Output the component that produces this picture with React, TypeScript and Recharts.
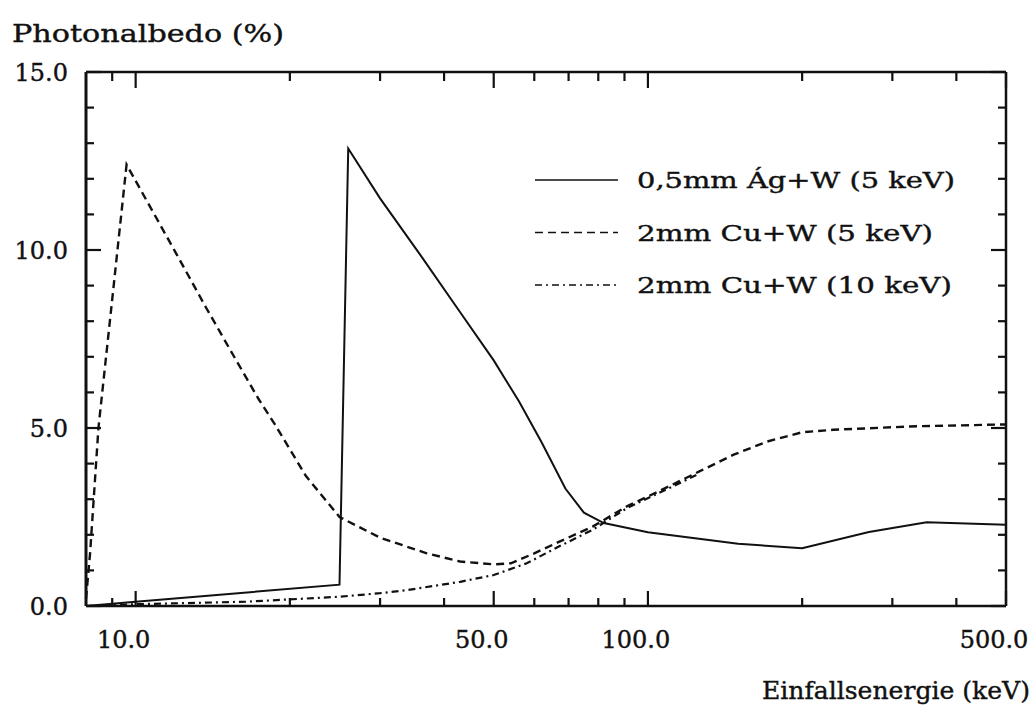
import React from 'react';
import { LineChart, Line, XAxis, YAxis, Legend } from 'recharts';

// energy axis (keV, log) ticks
const X_MAJOR = [10, 50, 100, 500];
const X_MINOR = [9, 20, 30, 40, 60, 70, 80, 90, 200, 300, 400];
const X_TICKS = [...X_MAJOR, ...X_MINOR].sort((a, b) => a - b);

// albedo axis (%) ticks
const Y_MAJOR = [0, 5, 10, 15];
const Y_MINOR = [1, 2, 3, 4, 6, 7, 8, 9, 11, 12, 13, 14];
const Y_TICKS = [...Y_MAJOR, ...Y_MINOR].sort((a, b) => a - b);

const SERIES_NAMES = ['0,5mm Ág+W (5 keV)', '2mm Cu+W (5 keV)', '2mm Cu+W (10 keV)'];

// 0,5mm Ag+W, 5 keV
const agEnergy = [8, 10, 25, 26, 30, 36, 43, 50, 56, 62, 69, 75, 82, 100, 150, 200, 270, 350, 500];
const agAlbedo = [0, 0.12, 0.6, 12.85, 11.45, 9.85, 8.25, 6.9, 5.75, 4.6, 3.3, 2.62, 2.33, 2.07, 1.75, 1.62, 2.08, 2.35, 2.28];

// 2mm Cu+W, 5 keV
const cu5Energy = [8, 8.15, 8.46, 9.06, 9.6, 12, 13.7, 15.5, 17.4, 18.7, 21.5, 25, 30, 37, 43, 50, 54, 60, 67, 78, 91, 106, 126, 147, 171, 200, 230, 335, 500];
const cu5Albedo = [0.2, 1.5, 5.0, 9.0, 12.4, 9.9, 8.4, 7.05, 5.8, 5.1, 3.65, 2.5, 1.92, 1.48, 1.25, 1.17, 1.2, 1.48, 1.8, 2.23, 2.8, 3.25, 3.78, 4.25, 4.62, 4.88, 4.95, 5.05, 5.1];

// 2mm Cu+W, 10 keV
const cu10Energy = [8, 10, 16.4, 25, 30, 34, 43, 50, 58, 67, 78, 91, 106, 126];
const cu10Albedo = [0, 0.05, 0.12, 0.26, 0.36, 0.45, 0.68, 0.87, 1.2, 1.67, 2.14, 2.75, 3.2, 3.72];

const toPoints = (e: number[], v: number[]) => e.map((x, i) => ({ e: x, v: v[i] }));

const FONT = 'DejaVu Serif';
const INK = '#111';

const CHART_W = 1034;
const CHART_H = 709;
const MARGIN_TOP = 72;
const X_AXIS_H = 103;
const PLOT_H = CHART_H - MARGIN_TOP - X_AXIS_H;

// bottom tick: inward mark + label, plus the matching mark hanging from the top frame
const XTick = (props: any) => {
  const { x, y, payload } = props;
  const major = X_MAJOR.includes(payload.value);
  const len = major ? 15 : 8;
  const top = y - PLOT_H;
  return (
    <g>
      <path d={`M${x},${y}L${x},${y - len}`} stroke={INK} strokeWidth={2.2} fill="none" />
      <path d={`M${x},${top}L${x},${top + (major ? 16 : 9)}`} stroke={INK} strokeWidth={2.2} fill="none" />
      {major && (
        <text x={x - 12} y={y + 42} textAnchor="middle" fontFamily={FONT} fontSize={24}
          fill={INK} stroke={INK} strokeWidth={0.4}>
          {payload.value.toFixed(1)}
        </text>
      )}
    </g>
  );
};

const YTick = (props: any) => {
  const { x, y, payload, side } = props;
  const major = Y_MAJOR.includes(payload.value);
  const len = major ? 15 : 8;
  const dir = side === 'right' ? -1 : 1;
  return (
    <g>
      <path d={`M${x},${y}L${x + dir * len},${y}`} stroke={INK} strokeWidth={2.2} fill="none" />
      {side !== 'right' && major && (
        <text x={x - 18} y={y + 9} textAnchor="end" fontFamily={FONT} fontSize={24}
          fill={INK} stroke={INK} strokeWidth={0.4}>
          {payload.value.toFixed(1)}
        </text>
      )}
    </g>
  );
};

const LEGEND_WIDTHS = [318, 296, 315];

const LegendBox = (props: any) => {
  const items = (props.payload || [])
    .filter((it: any) => SERIES_NAMES.includes(it.value))
    .sort((a: any, b: any) => SERIES_NAMES.indexOf(a.value) - SERIES_NAMES.indexOf(b.value));
  return (
    <svg width={440} height={160}>
      {items.map((it: any, i: number) => {
        const cy = 20 + i * 52.5;
        return (
          <g key={it.value}>
            <line x1={5} x2={88} y1={cy} y2={cy} stroke={INK} strokeWidth={1.6}
              strokeDasharray={it.payload.strokeDasharray} />
            <text x={107} y={cy + 8} fontFamily={FONT} fontSize={23} fill={INK} stroke={INK}
              strokeWidth={0.4} textLength={LEGEND_WIDTHS[i]} lengthAdjust="spacingAndGlyphs">
              {it.value}
            </text>
          </g>
        );
      })}
    </svg>
  );
};

export default function App() {
  return (
    <div style={{ position: 'absolute', left: 0, top: 0, background: '#fff' }}>
      <LineChart width={CHART_W} height={CHART_H} margin={{ top: MARGIN_TOP - 1, right: 0, bottom: 0, left: 0 }}>
        <XAxis
          dataKey="e"
          type="number"
          scale="log"
          domain={[8, 500]}
          ticks={X_TICKS}
          interval={0}
          height={X_AXIS_H}
          tickSize={0}
          tickMargin={0}
          tickLine={false}
          axisLine={{ stroke: INK, strokeWidth: 2.5 }}
          tick={<XTick />}
          label={({ viewBox }: any) => (
            <text x={viewBox.x + viewBox.width + 24} y={viewBox.y + 93} textAnchor="end"
              fontFamily={FONT} fontSize={25} fill={INK} stroke={INK} strokeWidth={0.4}
              textLength={268} lengthAdjust="spacingAndGlyphs">
              Einfallsenergie (keV)
            </text>
          )}
        />
        {/* top frame line */}
        <XAxis
          xAxisId="top"
          orientation="top"
          dataKey="e"
          type="number"
          scale="log"
          domain={[8, 500]}
          height={1}
          tick={false}
          tickLine={false}
          axisLine={{ stroke: INK, strokeWidth: 2.5 }}
        />
        <YAxis
          type="number"
          domain={[0, 15]}
          ticks={Y_TICKS}
          interval={0}
          width={86}
          tickSize={0}
          tickMargin={0}
          tickLine={false}
          axisLine={{ stroke: INK, strokeWidth: 3 }}
          tick={<YTick side="left" />}
          label={({ viewBox }: any) => (
            <text x={12} y={viewBox.y - 30} fontFamily={FONT} fontSize={25} fill={INK}
              stroke={INK} strokeWidth={0.4} textLength={272} lengthAdjust="spacingAndGlyphs">
              Photonalbedo (%)
            </text>
          )}
        />
        <YAxis
          yAxisId="right"
          orientation="right"
          type="number"
          domain={[0, 15]}
          ticks={Y_TICKS}
          interval={0}
          width={28}
          tickSize={0}
          tickMargin={0}
          tickLine={false}
          axisLine={{ stroke: INK, strokeWidth: 2.5 }}
          tick={<YTick side="right" />}
        />
        <Legend
          layout="horizontal"
          verticalAlign="middle"
          align="center"
          wrapperStyle={{ left: 530, top: 160, width: 440 }}
          content={<LegendBox />}
        />
        {/* unstroked copy that binds the top and right frame axes */}
        <Line data={toPoints(agEnergy, agAlbedo)} dataKey="v" xAxisId="top" yAxisId="right"
          stroke="none" legendType="none" dot={false} activeDot={false} isAnimationActive={false} />
        <Line data={toPoints(agEnergy, agAlbedo)} dataKey="v" name={SERIES_NAMES[0]}
          type="linear" stroke={INK} strokeWidth={2} dot={false} isAnimationActive={false} />
        <Line data={toPoints(cu5Energy, cu5Albedo)} dataKey="v" name={SERIES_NAMES[1]}
          type="linear" stroke={INK} strokeWidth={2.4} strokeDasharray="8 5" dot={false} isAnimationActive={false} />
        <Line data={toPoints(cu10Energy, cu10Albedo)} dataKey="v" name={SERIES_NAMES[2]}
          type="linear" stroke={INK} strokeWidth={2.2} strokeDasharray="7 4 2 4" dot={false} isAnimationActive={false} />
      </LineChart>
    </div>
  );
}
